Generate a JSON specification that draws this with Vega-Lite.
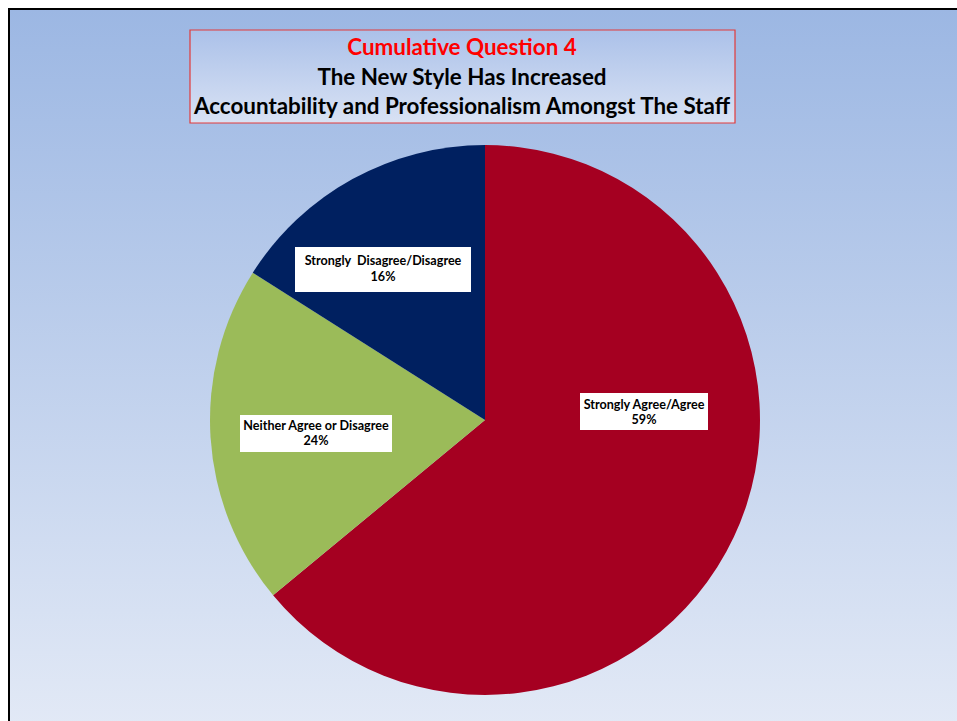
{
  "$schema": "https://vega.github.io/schema/vega-lite/v6.json",
  "width": 957,
  "height": 721,
  "autosize": {"type": "fit", "contains": "padding"},
  "padding": {"left": 9, "top": 9, "right": -3, "bottom": -3},
  "background": "#ffffff",
  "config": {
    "font": "Lato",
    "view": {
      "fill": {"gradient": "linear", "x1": 0, "y1": 0, "x2": 0, "y2": 1,
        "stops": [{"offset": 0, "color": "#9cb7e3"}, {"offset": 1, "color": "#e2e9f6"}]},
      "stroke": "#000000",
      "strokeWidth": 2
    }
  },
  "datasets": {
    "slices": [
      {"category": "Strongly Agree/Agree", "share": 64, "label": "Strongly Agree/Agree\n59%"},
      {"category": "Neither Agree or Disagree", "share": 20, "label": "Neither Agree or Disagree\n24%"},
      {"category": "Strongly  Disagree/Disagree", "share": 16, "label": "Strongly \u00a0Disagree/Disagree\n16%"}
    ],
    "one": [{}]
  },
  "layer": [
    {
      "data": {"name": "one"},
      "mark": {"type": "rect", "stroke": "#e23a3a", "strokeWidth": 1.2,
        "fill": {"gradient": "linear", "x1": 0, "y1": 0, "x2": 0, "y2": 1,
          "stops": [{"offset": 0, "color": "#abc1e9"}, {"offset": 1, "color": "#d9e2f4"}]}},
      "encoding": {
        "x": {"datum": 190, "type": "quantitative", "scale": {"domain": [9, 960], "nice": false, "zero": false}, "axis": null},
        "x2": {"datum": 735},
        "y": {"datum": 30, "type": "quantitative", "scale": {"domain": [9, 724], "nice": false, "zero": false, "reverse": true}, "axis": null},
        "y2": {"datum": 123}
      }
    },
    {
      "data": {"name": "one"},
      "mark": {"type": "text", "text": "Cumulative Question 4", "fontWeight": "bold", "fontSize": 22.4, "color": "#ff0000", "align": "center", "baseline": "middle"},
      "encoding": {
        "x": {"datum": 462, "type": "quantitative"},
        "y": {"datum": 47.5, "type": "quantitative"}
      }
    },
    {
      "data": {"name": "one"},
      "mark": {"type": "text", "text": ["The New Style Has Increased", "Accountability and Professionalism Amongst The Staff"], "lineHeight": 29, "fontWeight": "bold", "fontSize": 22.4, "color": "#000000", "align": "center", "baseline": "middle"},
      "encoding": {
        "x": {"datum": 462, "type": "quantitative"},
        "y": {"datum": 77.5, "type": "quantitative"}
      }
    },
    {
      "data": {"name": "slices"},
      "mark": {"type": "arc", "outerRadius": 275},
      "encoding": {
        "theta": {"field": "share", "type": "quantitative", "stack": true},
        "order": {"field": "share", "type": "quantitative", "sort": "descending"},
        "color": {"field": "category", "type": "nominal", "legend": null,
          "scale": {"domain": ["Strongly Agree/Agree", "Neither Agree or Disagree", "Strongly  Disagree/Disagree"], "range": ["#a50021", "#9bbb59", "#002060"]}},
        "x": {"datum": 485, "type": "quantitative"},
        "y": {"datum": 420, "type": "quantitative"}
      }
    },
    {
      "data": {"name": "one"},
      "mark": {"type": "rect", "fill": "#ffffff"},
      "encoding": {"x": {"datum": 580, "type": "quantitative"}, "x2": {"datum": 708}, "y": {"datum": 393, "type": "quantitative"}, "y2": {"datum": 430}}
    },
    {
      "data": {"name": "one"},
      "mark": {"type": "rect", "fill": "#ffffff"},
      "encoding": {"x": {"datum": 240, "type": "quantitative"}, "x2": {"datum": 392}, "y": {"datum": 415, "type": "quantitative"}, "y2": {"datum": 452}}
    },
    {
      "data": {"name": "one"},
      "mark": {"type": "rect", "fill": "#ffffff"},
      "encoding": {"x": {"datum": 295, "type": "quantitative"}, "x2": {"datum": 471}, "y": {"datum": 247, "type": "quantitative"}, "y2": {"datum": 292}}
    },
    {
      "data": {"name": "slices"},
      "transform": [{"filter": "datum.category == 'Strongly Agree/Agree'"}],
      "mark": {"type": "text", "fontWeight": "bold", "fontSize": 12.6, "lineBreak": "\n", "lineHeight": 15.7, "color": "#000000", "align": "center", "baseline": "middle"},
      "encoding": {"text": {"field": "label"}, "x": {"datum": 644, "type": "quantitative"}, "y": {"datum": 404.5, "type": "quantitative"}}
    },
    {
      "data": {"name": "slices"},
      "transform": [{"filter": "datum.category == 'Neither Agree or Disagree'"}],
      "mark": {"type": "text", "fontWeight": "bold", "fontSize": 12.6, "lineBreak": "\n", "lineHeight": 15.7, "color": "#000000", "align": "center", "baseline": "middle"},
      "encoding": {"text": {"field": "label"}, "x": {"datum": 316, "type": "quantitative"}, "y": {"datum": 425.5, "type": "quantitative"}}
    },
    {
      "data": {"name": "slices"},
      "transform": [{"filter": "datum.category == 'Strongly  Disagree/Disagree'"}],
      "mark": {"type": "text", "fontWeight": "bold", "fontSize": 12.6, "lineBreak": "\n", "lineHeight": 15.7, "color": "#000000", "align": "center", "baseline": "middle"},
      "encoding": {"text": {"field": "label"}, "x": {"datum": 383, "type": "quantitative"}, "y": {"datum": 261.3, "type": "quantitative"}}
    }
  ]
}
